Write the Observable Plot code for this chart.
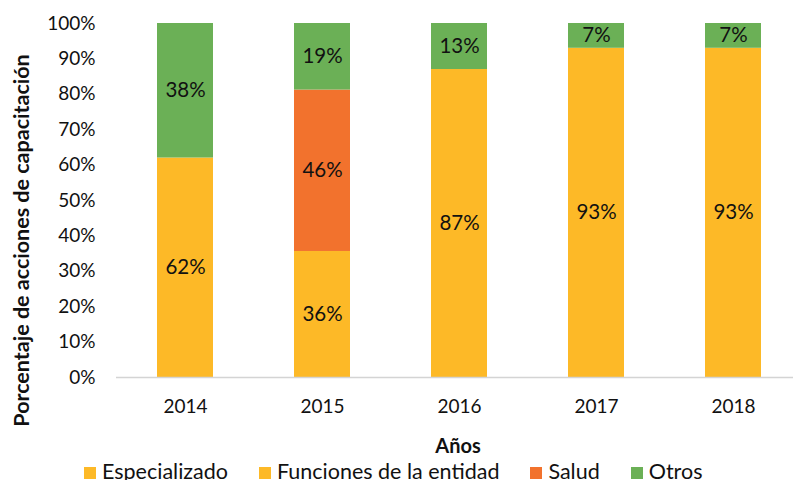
<!DOCTYPE html>
<html>
<head>
<meta charset="utf-8">
<script src="https://cdn.jsdelivr.net/npm/d3@7"></script>
<script src="https://cdn.jsdelivr.net/npm/@observablehq/plot@0.6"></script>
<style>
  html, body { margin: 0; padding: 0; background: #fff; overflow: hidden; }
  #wrap { position: relative; width: 793px; height: 480px; font-family: Lato, "Open Sans", sans-serif; }
  #legend { position: absolute; left: 84px; top: 458px; display: flex; align-items: center; gap: 31px;
            font-size: 21.5px; line-height: 26px; color: #111; white-space: nowrap; }
  .item { display: flex; align-items: center; gap: 6px; }
  .sw { width: 12px; height: 12px; display: inline-block; margin-top: 4px; }
</style>
</head>
<body>
<div id="wrap"></div>
<script>
const years = ["2014", "2015", "2016", "2017", "2018"];
const seriesNames = ["Especializado", "Funciones de la entidad", "Salud", "Otros"];
const seriesColors = ["#FDB927", "#FDB927", "#F2722D", "#6BB056"];
const especializado = [0, 0, 0, 0, 0];
const funciones = [62, 35.6, 87, 93, 93];
const salud = [0, 45.6, 0, 0, 0];
const otros = [38, 18.8, 13, 7, 7];
const yTicks = [0, 10, 20, 30, 40, 50, 60, 70, 80, 90, 100];
const yTitle = "Porcentaje de acciones de capacitación";
const xTitle = "Años";

const valuesBySeries = [especializado, funciones, salud, otros];
const data = [];
seriesNames.forEach((s, si) => {
  years.forEach((y, yi) => data.push({year: y, series: s, value: valuesBySeries[si][yi]}));
});
const labelData = data.filter(d => d.value > 0);

const chart = Plot.plot({
  width: 793,
  height: 458,
  marginTop: 23,
  marginBottom: 81,
  marginLeft: 116,
  marginRight: 0,
  style: {fontFamily: "Lato, 'Open Sans', sans-serif", fontSize: "19px", color: "#111", background: "#fff"},
  x: {domain: years, range: [116.5, 801.5], paddingInner: 0.59, paddingOuter: 0.295, label: null},
  y: {domain: [0, 100], label: null},
  color: {domain: seriesNames, range: seriesColors},
  marks: [
    Plot.barY(data, Plot.stackY({x: "year", y: "value", z: "series", fill: "series", order: seriesNames})),
    Plot.text(labelData, Plot.stackY({x: "year", y: "value", z: "series", order: seriesNames,
      text: d => Math.round(d.value) + "%", fontSize: 20.5, fill: "#111"})),
    Plot.ruleY([0], {stroke: "#d4d4d4", strokeWidth: 1.5}),
    Plot.axisY({ticks: yTicks, tickFormat: d => d + "%", tickSize: 0, tickPadding: 21, fontSize: 19, label: null}),
    Plot.axisX({tickSize: 0, tickPadding: 22, fontSize: 19, label: null}),
    Plot.text([xTitle], {frameAnchor: "bottom", dx: 3, dy: 69, lineAnchor: "middle", fontWeight: "bold", fontSize: 20, fill: "#111"}),
    Plot.text([yTitle], {frameAnchor: "left", textAnchor: "middle", rotate: -90, dx: -94, dy: 40, lineAnchor: "middle", fontWeight: "bold", fontSize: 21.5, fill: "#111"})
  ]
});
const wrap = document.getElementById("wrap");
wrap.appendChild(chart);

const legend = document.createElement("div");
legend.id = "legend";
seriesNames.forEach((s, i) => {
  const item = document.createElement("div");
  item.className = "item";
  const sw = document.createElement("span");
  sw.className = "sw";
  sw.style.background = seriesColors[i];
  const t = document.createElement("span");
  t.textContent = s;
  item.appendChild(sw);
  item.appendChild(t);
  legend.appendChild(item);
});
wrap.appendChild(legend);
</script>
</body>
</html>
